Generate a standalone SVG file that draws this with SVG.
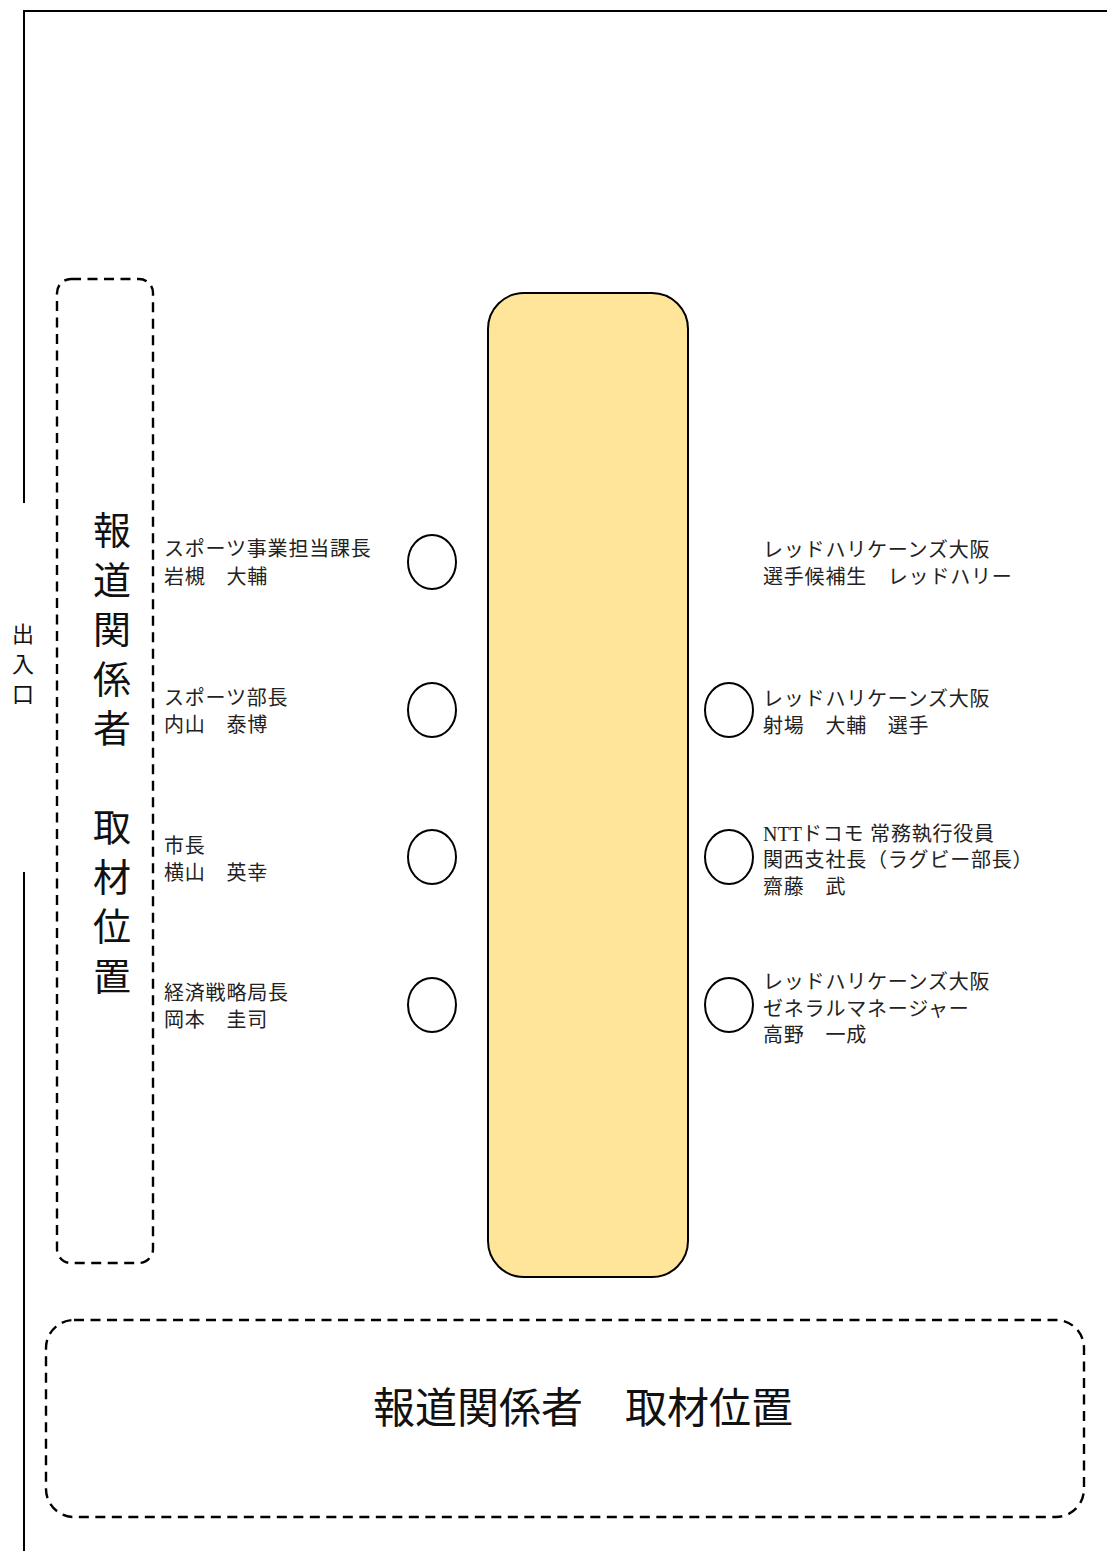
<svg xmlns="http://www.w3.org/2000/svg" width="1107" height="1551" viewBox="0 0 1107 1551">
<style>
.wall{fill:none;stroke:#000;stroke-width:2}
.dash{fill:none;stroke:#000;stroke-width:2.4;stroke-dasharray:10 6.5}
.seat{fill:#fff;stroke:#000;stroke-width:2}
.lbl{font-family:"Liberation Serif","Noto Sans CJK JP",serif;font-size:20px;letter-spacing:0.8px;fill:#222}
.big{font-family:"Liberation Serif","Noto Sans CJK JP",serif;fill:#111}
</style>
<rect width="1107" height="1551" fill="#fff"/>
<g id="walls">
<path class="wall" d="M24,503 V11 H1107"/>
<path class="wall" d="M24,872 V1551"/>
</g>
<g id="entrance">
<text class="big" font-size="22" text-anchor="middle"><tspan x="23" y="642">出</tspan><tspan x="23" y="672">入</tspan><tspan x="23" y="702">口</tspan></text>
</g>
<g id="press-left">
<rect class="dash" x="57" y="279" width="96" height="984" rx="14"/>
<text class="big" font-size="38" text-anchor="middle"><tspan x="112" y="544">報</tspan><tspan x="112" y="593.5">道</tspan><tspan x="112" y="643">関</tspan><tspan x="112" y="692.5">係</tspan><tspan x="112" y="742">者</tspan><tspan x="112" y="841">取</tspan><tspan x="112" y="890.5">材</tspan><tspan x="112" y="940">位</tspan><tspan x="112" y="989.5">置</tspan></text>
</g>
<g id="table">
<rect x="488" y="293" width="200" height="984" rx="36" fill="#ffe599" stroke="#000" stroke-width="2"/>
</g>
<g id="press-bottom">
<rect class="dash" x="46" y="1320" width="1038" height="197" rx="28"/>
<text class="big" font-size="42" text-anchor="middle" x="583" y="1423">報道関係者　取材位置</text>
</g>
<g id="seat-L1">
<ellipse class="seat" cx="432" cy="562" rx="24" ry="27"/>
<text class="lbl"><tspan x="164" y="556">スポーツ事業担当課長</tspan><tspan x="164" y="584">岩槻　大輔</tspan></text>
</g>
<g id="seat-L2">
<ellipse class="seat" cx="432" cy="710" rx="24" ry="27"/>
<text class="lbl"><tspan x="164" y="705">スポーツ部長</tspan><tspan x="164" y="732">内山　泰博</tspan></text>
</g>
<g id="seat-L3">
<ellipse class="seat" cx="432" cy="857" rx="24" ry="27"/>
<text class="lbl"><tspan x="164" y="853">市長</tspan><tspan x="164" y="880">横山　英幸</tspan></text>
</g>
<g id="seat-L4">
<ellipse class="seat" cx="432" cy="1005" rx="24" ry="27"/>
<text class="lbl"><tspan x="164" y="1000">経済戦略局長</tspan><tspan x="164" y="1027">岡本　圭司</tspan></text>
</g>
<g id="seat-R1">
<text class="lbl"><tspan x="763" y="557">レッドハリケーンズ大阪</tspan><tspan x="763" y="584">選手候補生　レッドハリー</tspan></text>
</g>
<g id="seat-R2">
<ellipse class="seat" cx="729" cy="710" rx="24" ry="27"/>
<text class="lbl"><tspan x="763" y="706">レッドハリケーンズ大阪</tspan><tspan x="763" y="733">射場　大輔　選手</tspan></text>
</g>
<g id="seat-R3">
<ellipse class="seat" cx="729" cy="857" rx="24" ry="27"/>
<text class="lbl"><tspan x="763" y="841" letter-spacing="0"><tspan>NTT</tspan><tspan letter-spacing="0.8">ドコモ 常務執行役員</tspan></tspan><tspan x="763" y="867">関西支社長（ラグビー部長）</tspan><tspan x="763" y="894">齋藤　武</tspan></text>
</g>
<g id="seat-R4">
<ellipse class="seat" cx="729" cy="1005" rx="24" ry="27"/>
<text class="lbl"><tspan x="763" y="989">レッドハリケーンズ大阪</tspan><tspan x="763" y="1016">ゼネラルマネージャー</tspan><tspan x="763" y="1042">高野　一成</tspan></text>
</g>
<g id="connectors"></g>
</svg>
